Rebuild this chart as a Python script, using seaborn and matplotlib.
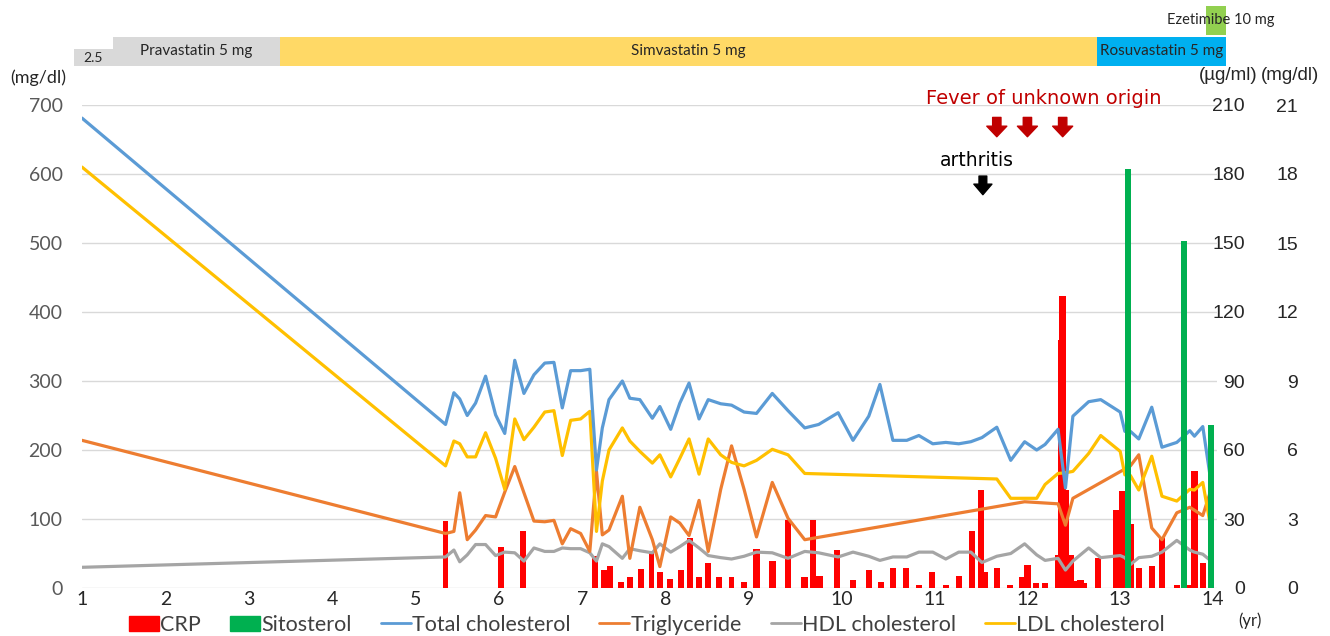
import numpy as np
import pandas as pd
import matplotlib
matplotlib.use('Agg')
import matplotlib.pyplot as plt
import matplotlib.patches as mpatches
from matplotlib.lines import Line2D
import seaborn as sns

sns.set_style("white")
plt.rcParams['font.family'] = ['Lato', 'DejaVu Sans']
nan = np.nan

# lipid panel visits (yr)
visit_yr = [1.00, 5.36, 5.46, 5.53, 5.62, 5.72, 5.84, 5.96, 6.07, 6.19,
            6.30, 6.42, 6.55, 6.66, 6.76, 6.86, 6.98, 7.09, 7.17, 7.24,
            7.32, 7.48, 7.57, 7.69, 7.84, 7.93, 8.06, 8.17, 8.28, 8.40,
            8.51, 8.66, 8.79, 8.94, 9.08, 9.25, 9.42, 9.60, 9.75, 9.96,
            10.12, 10.29, 10.41, 10.55, 10.70, 10.83, 10.98, 11.12, 11.26, 11.39,
            11.51, 11.67, 11.82, 11.97, 12.10, 12.19, 12.33, 12.41, 12.49, 12.66,
            12.79, 13.00, 13.05, 13.11, 13.20, 13.34, 13.45, 13.61, 13.75, 13.80,
            13.89, 13.98]

total_chol = [681, 237, 283, 274, 250, 268, 307, 251, 224, 330,
              282, 309, 326, 327, 261, 315, 315, 317, 171, 232,
              273, 300, 275, 273, 246, 263, 230, 268, 297, 245,
              273, 267, 265, 255, 253, 282, 257, 232, 237, 254,
              214, 249, 295, 214, 214, 221, 209, 211, 209, 212,
              218, 233, 185, 212, 200, 208, 230, 145, 249, 270,
              273, 255, 227, 227, 216, 262, 204, 211, 228, 220,
              234, 152]

triglyceride = [214, 79, 82, 138, 70, 84, 105, 103, 139, 176,
                138, 97, 96, 98, 64, 86, 79, 53, 169, 77,
                84, 133, 43, 117, 70, 31, 103, 94, 76, 127,
                53, 143, 206, 143, 74, 153, 101, 70, nan, nan,
                nan, nan, nan, nan, nan, nan, nan, nan, nan, nan,
                nan, nan, nan, 125, nan, nan, 122, 91, 130, nan,
                nan, nan, nan, 177, 193, 87, 70, 109, 117, nan,
                105, 143]

hdl_chol = [30, 45, 55, 38, 48, 63, 63, 47, 52, 51,
            39, 58, 53, 53, 58, 57, 57, 51, 39, 64,
            60, 43, 57, 54, 51, 64, 52, 60, 69, 58,
            47, 44, 42, 46, 52, 51, 43, 53, 51, 45,
            52, 46, 40, 45, 45, 52, 52, 42, 52, 52,
            37, 46, 50, 64, 48, 40, 43, 26, 39, 58,
            44, 47, 44, 34, 44, 46, 52, 69, 55, 52,
            49, 39]

ldl_chol = [610, 177, 213, 209, 190, 190, 225, 188, 143, 245,
            215, 233, 255, 257, 192, 243, 245, 256, 82, 155,
            200, 232, 213, 198, 181, 193, 161, 188, 216, 165,
            216, 193, 182, 177, 185, 201, 193, 166, nan, nan,
            nan, nan, nan, nan, nan, nan, nan, nan, nan, nan,
            nan, 158, 130, nan, 130, 150, 166, 167, 169, 195,
            221, 198, 164, 163, 142, 191, 133, 126, 143, 142,
            153, 85]

# CRP (mg/dl)
crp_yr = [5.36, 6.02, 6.29, 7.15, 7.26, 7.33, 7.46, 7.57, 7.70, 7.83,
          7.93, 8.05, 8.18, 8.29, 8.40, 8.51, 8.64, 8.79, 8.94, 9.08,
          9.25, 9.42, 9.60, 9.69, 9.76, 9.95, 10.12, 10.29, 10.42, 10.55,
          10.69, 10.83, 10.97, 11.12, 11.26, 11.40, 11.50, 11.54, 11.67, 11.81,
          11.94, 12.00, 12.09, 12.19, 12.33, 12.36, 12.38, 12.41, 12.44, 12.47,
          12.50, 12.57, 12.61, 12.76, 12.96, 13.02, 13.11, 13.20, 13.34, 13.45,
          13.61, 13.74, 13.80, 13.89]
crp_mgdl = [2.9, 1.8, 2.5, 1.38, 0.77, 0.94, 0.25, 0.46, 0.84, 1.52,
            0.68, 0.39, 0.77, 2.17, 0.46, 1.09, 0.46, 0.46, 0.25, 1.7,
            1.19, 2.97, 0.46, 2.97, 0.54, 1.66, 0.36, 0.77, 0.25, 0.87,
            0.87, 0.15, 0.68, 0.15, 0.54, 2.5, 4.28, 0.68, 0.87, 0.15,
            0.46, 1.0, 0.2, 0.2, 1.45, 10.8, 12.7, 4.26, 1.45, 1.45,
            0.3, 0.36, 0.2, 1.3, 3.4, 4.2, 2.8, 0.87, 0.97, 2.17,
            0.15, 0.15, 5.07, 1.09]

# Sitosterol (ug/ml)
sito_yr = [13.08, 13.69, 13.98]
sito_ugml = [182, 151, 71]

# medication timeline
drug_labels = ['2.5', 'Pravastatin 5 mg', 'Simvastatin 5 mg', 'Rosuvastatin 5 mg']
drug_start = [0.90, 1.37, 3.37, 12.75]
drug_end = [1.37, 3.37, 12.75, 14.14]
drug_colors = ['#D9D9D9', '#D9D9D9', '#FFD966', '#00B0F0']
eze_label = 'Ezetimibe 10 mg'
eze_start, eze_end = 13.93, 14.14

fever_yr = [11.67, 12.00, 12.38]
arthritis_yr = 11.52

year_ticks = list(range(1, 15))
mgdl_ticks = list(range(0, 701, 100))
ugml_ticks = list(range(0, 211, 30))
crp_ticks = list(range(0, 22, 3))

# x axis in the source is wider after year 9
k = 92.8 / 83.4


def fwd(x):
    x = np.asarray(x, dtype=float)
    return np.where(x <= 9, x, 9 + (x - 9) * k)


def inv(x):
    x = np.asarray(x, dtype=float)
    return np.where(x <= 9, x, 9 + (x - 9) / k)


def mid(a, b):
    return float(inv((fwd(a) + fwd(b)) / 2))


W, H = 1330, 636
fig = plt.figure(figsize=(W / 100, H / 100), dpi=100)
x0, x1 = 82, 1216.7
ax = fig.add_axes([x0 / W, 48 / H, (x1 - x0) / W, 483 / H])
ax.set_xscale('function', functions=(fwd, inv))
ax_crp = ax.twinx()
ax_sito = ax.twinx()
ax_crp.set_zorder(1)
ax.set_zorder(2)
ax_sito.set_zorder(3)
ax.patch.set_visible(False)

# CRP bars below everything
ax_crp.bar(crp_yr, crp_mgdl, width=0.07, color='#FF0000', linewidth=0, zorder=2)
ax_crp.set_ylim(0, 21)
ax_crp.set_yticks(crp_ticks)
ax_crp.yaxis.grid(True, color='#D9D9D9', lw=1)
ax_crp.set_axisbelow(True)

df = pd.DataFrame({'yr': visit_yr,
                   'Total cholesterol': total_chol,
                   'Triglyceride': triglyceride,
                   'HDL cholesterol': hdl_chol,
                   'LDL cholesterol': ldl_chol})
line_colors = {'Total cholesterol': '#5B9BD5',
               'Triglyceride': '#ED7D31',
               'HDL cholesterol': '#A5A5A5',
               'LDL cholesterol': '#FFC000'}
for col in ['HDL cholesterol', 'Triglyceride', 'LDL cholesterol', 'Total cholesterol']:
    d = df[['yr', col]].dropna()
    sns.lineplot(data=d, x='yr', y=col, ax=ax, color=line_colors[col],
                 lw=2.3, sort=False, estimator=None)

ax_sito.bar(sito_yr, sito_ugml, width=0.065, color='#00B050', linewidth=0)
ax_sito.set_ylim(0, 210)
ax_sito.set_yticks(ugml_ticks)

ax.set_xlim(1, 14.04)
ax.set_ylim(0, 700)
ax.set_xlabel('')
ax.set_ylabel('')
ax.set_xticks(year_ticks)
ax.set_xticklabels([str(t) for t in year_ticks], fontsize=14, color='#262626')
ax.set_yticks(mgdl_ticks)
ax.set_yticklabels([str(t) for t in mgdl_ticks], fontsize=14, color='#595959')
ax.tick_params(axis='x', length=0, pad=2)
ax.tick_params(axis='y', length=0, pad=14)

for a, pad in [(ax_sito, 20.4), (ax_crp, 58.5)]:
    a.tick_params(axis='y', length=0, pad=pad)
    for lbl in a.get_yticklabels():
        lbl.set_horizontalalignment('right')
        lbl.set_fontsize(14)
        lbl.set_color('#262626')
        lbl.set_family(['Liberation Sans', 'DejaVu Sans'])

for a in [ax, ax_crp, ax_sito]:
    for s in a.spines.values():
        s.set_visible(False)

# events
ax.text(12.18, 710, 'Fever of unknown origin', color='#C00000', fontsize=14,
        family=['DejaVu Sans'], ha='center', va='center')
for fx in fever_yr:
    ax.annotate('', xy=(fx, 654), xytext=(fx, 682), annotation_clip=False,
                arrowprops=dict(arrowstyle='simple,head_width=0.72,head_length=0.38,tail_width=0.3',
                                color='#C00000', shrinkA=0, shrinkB=0, mutation_scale=20))
ax.text(11.46, 620, 'arthritis', color='black', fontsize=13.5,
        family=['DejaVu Sans'], ha='center', va='center')
ax.annotate('', xy=(arthritis_yr, 570), xytext=(arthritis_yr, 597), annotation_clip=False,
            arrowprops=dict(arrowstyle='simple,head_width=0.65,head_length=0.38,tail_width=0.28',
                            color='black', shrinkA=0, shrinkB=0, mutation_scale=20))

# medication band
ax_drug = fig.add_axes([x0 / W, 570 / H, (x1 - x0) / W, 61 / H], sharex=ax)
ax_drug.set_ylim(0, 61)
ax_drug.axis('off')
for lab, s, e, c in zip(drug_labels, drug_start, drug_end, drug_colors):
    h = 17 if lab == '2.5' else 29
    ax_drug.barh(0, e - s, left=s, height=h, align='edge', color=c, linewidth=0, clip_on=False)
    ax_drug.text(mid(s, e), h / 2, lab, ha='center', va='center',
                 fontsize=10 if lab == '2.5' else 11, color='#262626', clip_on=False)
ax_drug.barh(31, eze_end - eze_start, left=eze_start, height=29, align='edge',
             color='#92D050', linewidth=0, clip_on=False)
ax_drug.text(mid(eze_start, eze_end) + 0.05, 46, eze_label, ha='center', va='center',
             fontsize=10.5, color='#262626', clip_on=False)

# unit labels
fig.text(38 / W, 1 - 78 / H, '(mg/dl)', ha='center', va='center', fontsize=13, color='#262626')
fig.text(1228 / W, 1 - 75 / H, '(\u00b5g/ml)', ha='center', va='center', fontsize=13.5,
         color='#262626', family=['Liberation Sans', 'DejaVu Sans'])
fig.text(1290 / W, 1 - 75 / H, '(mg/dl)', ha='center', va='center', fontsize=13.5,
         color='#262626', family=['Liberation Sans', 'DejaVu Sans'])
fig.text(1250 / W, 1 - 621 / H, '(yr)', ha='center', va='center', fontsize=12, color='#262626')

handles = [mpatches.Patch(color='#FF0000'), mpatches.Patch(color='#00B050')]
handles += [Line2D([], [], color=line_colors[c], lw=2) for c in
            ['Total cholesterol', 'Triglyceride', 'HDL cholesterol', 'LDL cholesterol']]
labels = ['CRP', 'Sitosterol', 'Total cholesterol', 'Triglyceride',
          'HDL cholesterol', 'LDL cholesterol']
leg = fig.legend(handles, labels, loc='center', bbox_to_anchor=(647 / W, 1 - 625 / H),
                 ncol=6, frameon=False, fontsize=15.5, handlelength=1.4, handleheight=0.75,
                 handletextpad=0.05, columnspacing=1.35, borderaxespad=0, borderpad=0)
for t in leg.get_texts():
    t.set_color('#404040')

fig.savefig('out.png', dpi=100)
